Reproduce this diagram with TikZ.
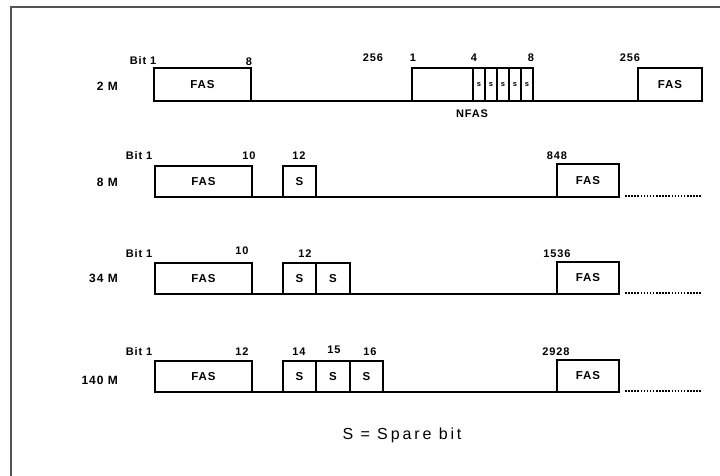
\documentclass[tikz,border=0pt]{standalone}
\usepackage{fontspec}
\setmainfont{Liberation Sans}
\newfontfamily\spacedfont[LetterSpace=18]{Liberation Sans}
\newfontfamily\labelfont[LetterSpace=8]{Liberation Sans}
\usetikzlibrary{calc}
\definecolor{frameG}{RGB}{85,85,85}

\begin{document}
\begin{tikzpicture}[x=1pt,y=-1pt,
  fieldbox/.style={draw,line width=1.4pt,rectangle,inner sep=0pt,outer sep=0pt,anchor=north west,
    minimum height=32,font=\labelfont\fontsize{11.5}{12}\selectfont\bfseries},
  num/.style={anchor=base,inner sep=0pt,font=\labelfont\fontsize{11}{12}\selectfont\bfseries},
  rate/.style={anchor=base east,inner sep=0pt,font=\labelfont\fontsize{12}{13}\selectfont\bfseries},
  baseline/.style={line width=1.4pt},
  dots/.style={line width=1.8pt,dash pattern=on 1.5pt off 1.6pt}]
\useasboundingbox (0,0) rectangle (720,476);
% frame
\coordinate (tl) at (11,7);
\draw[frameG,line width=2pt] (11,476) -- (tl) -- (720,7);

% 2 M
\node[rate] (r2) at (118,91) {2 M};
\node[num] (bit2) at (143,65) {Bit 1};
\node[fieldbox,minimum width=97,minimum height=33] (fas2a) at (154,68) {FAS};
\node[num] (n2a) at (249,66) {8};
\node[num] (n2b) at (373,62) {256};
\node[fieldbox,minimum width=121,minimum height=33] (nfas) at (412,68) {};
\foreach \i in {0,...,4}
  \node[fieldbox,minimum width=12,minimum height=33,font=\fontsize{7.5}{8}\selectfont\bfseries] (s2\i) at (473+12*\i,68) {s};
\node[num] (n2c) at (413,62) {1};
\node[num] (n2d) at (474,62) {4};
\node[num] (n2e) at (531,62) {8};
\node[num] (n2f) at (630,62) {256};
\node[num] (nfaslbl) at (472,118) {NFAS};
\node[fieldbox,minimum width=64,minimum height=33] (fas2b) at (638,68) {FAS};
\draw[baseline] (fas2a.south east) -- (nfas.south west) (nfas.south east) -- (fas2b.south west);

% 8 M
\node[rate] (r8) at (118,186) {8 M};
\node[num] (bit8) at (139,160) {Bit 1};
\node[fieldbox,minimum width=97,minimum height=31] (fas8a) at (155,166) {FAS};
\node[num] (n8a) at (249,160) {10};
\node[num] (n8b) at (299,160) {12};
\node[fieldbox,minimum width=33,minimum height=31] (s8a) at (283,166) {S};
\node[num] (n8c) at (557,160) {848};
\node[fieldbox,minimum width=62,minimum height=33] (fas8b) at (557,164) {FAS};
\coordinate (end8) at (702,196);
\draw[baseline] (fas8a.south east) -- (s8a.south west) (s8a.south east) -- (fas8b.south west);
\draw[dots] ($(fas8b.south east)+(6,-1)$) -- (end8);

% 34 M
\node[rate] (r34) at (118,282) {34 M};
\node[num] (bit34) at (139,257) {Bit 1};
\node[fieldbox,minimum width=97,minimum height=31] (fas34a) at (155,263) {FAS};
\node[num] (n34a) at (242,254) {10};
\node[num] (n34b) at (305,257) {12};
\node[fieldbox,minimum width=33,minimum height=31] (s34a) at (283,263) {S};
\node[fieldbox,minimum width=34,minimum height=31] (s34b) at (316,263) {S};
\node[num] (n34c) at (557,257) {1536};
\node[fieldbox,minimum width=62,minimum height=32] (fas34b) at (557,262) {FAS};
\coordinate (end34) at (702,293);
\draw[baseline] (fas34a.south east) -- (s34a.south west) (s34b.south east) -- (fas34b.south west);
\draw[dots] ($(fas34b.south east)+(6,-1)$) -- (end34);

% 140 M
\node[rate] (r140) at (118,384) {140 M};
\node[num] (bit140) at (139,355) {Bit 1};
\node[fieldbox,minimum width=97,minimum height=31] (fas140a) at (155,361) {FAS};
\node[num] (n140a) at (242,355) {12};
\node[num] (n140b) at (299,355) {14};
\node[num] (n140c) at (334,353) {15};
\node[num] (n140d) at (370,355) {16};
\node[fieldbox,minimum width=33,minimum height=31] (s140a) at (283,361) {S};
\node[fieldbox,minimum width=34,minimum height=31] (s140b) at (316,361) {S};
\node[fieldbox,minimum width=33,minimum height=31] (s140c) at (350,361) {S};
\node[num] (n140e) at (556,355) {2928};
\node[fieldbox,minimum width=62,minimum height=32] (fas140b) at (557,360) {FAS};
\coordinate (end140) at (702,391);
\draw[baseline] (fas140a.south east) -- (s140a.south west) (s140c.south east) -- (fas140b.south west);
\draw[dots] ($(fas140b.south east)+(6,-1)$) -- (end140);

\node[font=\spacedfont\fontsize{16}{17}\selectfont] (legend) at (402,435) {S = Spare bit};
\end{tikzpicture}
\end{document}
